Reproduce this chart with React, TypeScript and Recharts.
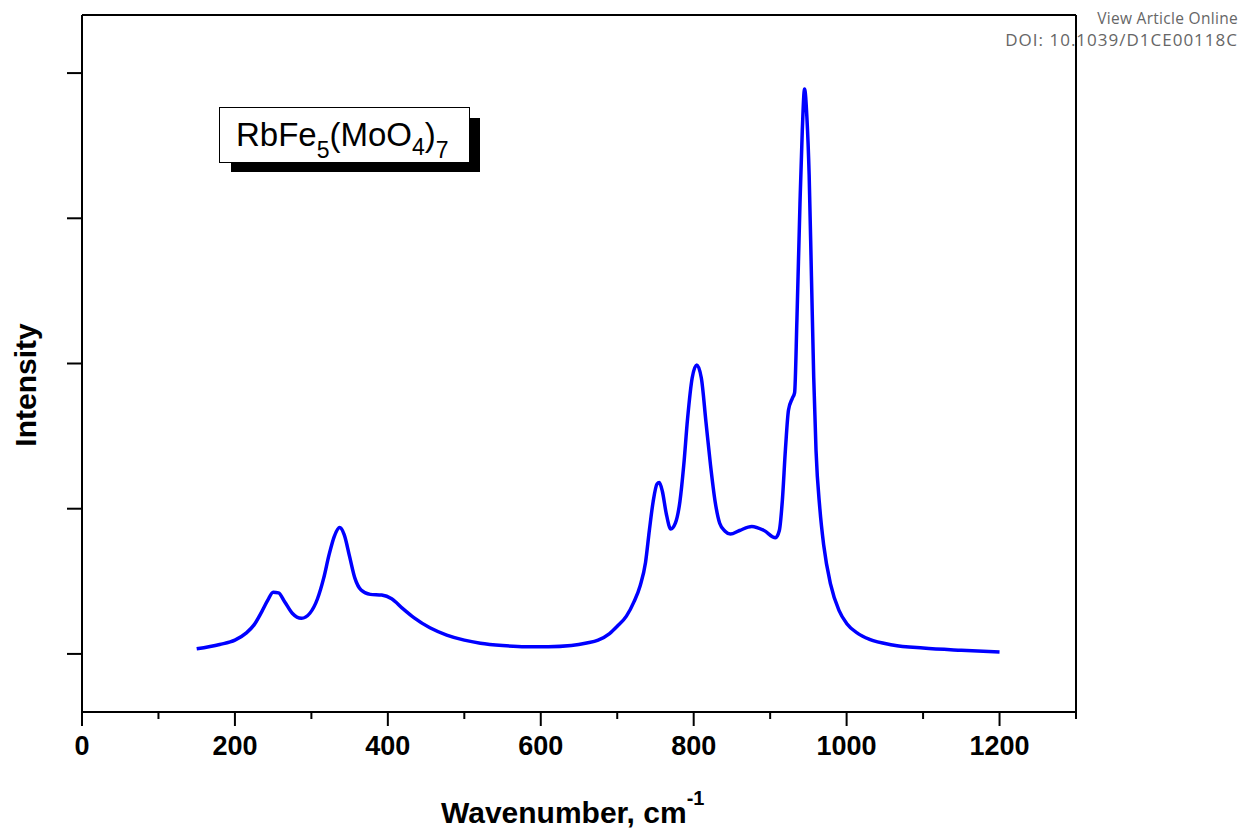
import React from 'react';
import { LineChart, Line, XAxis, YAxis, ReferenceLine, Customized } from 'recharts';

// wavenumber (cm-1) and intensity
const wavenumber = [
  150, 180, 200, 215, 225, 235, 243, 250, 257, 265, 275, 287, 298, 308, 316, 323, 330, 337, 343, 350,
  357, 365, 377, 392, 405, 420, 434, 455, 477, 500, 521, 550, 580, 610, 640, 660, 675, 690, 700, 712,
  722, 730, 737, 742, 747, 752, 755, 759, 764, 770, 776, 782, 787, 792, 798, 804, 810, 816, 822, 828,
  834, 841, 848, 860, 876, 892, 907, 912, 916, 920, 924, 929, 932, 935, 939, 942, 945, 948, 951, 954,
  957, 960, 965, 970, 979, 990, 1000, 1015, 1030, 1060, 1100, 1150, 1200,
];
const intensity = [
  0.035, 0.065, 0.095, 0.145, 0.2, 0.29, 0.37, 0.425, 0.42, 0.36, 0.28, 0.245, 0.28, 0.38, 0.52, 0.68, 0.81, 0.87, 0.82, 0.67,
  0.52, 0.44, 0.41, 0.405, 0.38, 0.31, 0.25, 0.18, 0.13, 0.095, 0.074, 0.058, 0.05, 0.05, 0.058, 0.075, 0.095, 0.14, 0.19, 0.26,
  0.36, 0.47, 0.63, 0.85, 1.05, 1.17, 1.18, 1.12, 0.97, 0.86, 0.9, 1.05, 1.3, 1.62, 1.9, 1.99, 1.9, 1.6, 1.3, 1.05,
  0.9, 0.845, 0.825, 0.85, 0.878, 0.85, 0.8, 0.85, 1.06, 1.41, 1.68, 1.76, 1.8, 2.3, 3.1, 3.6, 3.89, 3.7, 3.3, 2.6,
  1.9, 1.4, 1.0, 0.75, 0.48, 0.3, 0.21, 0.14, 0.1, 0.062, 0.04, 0.025, 0.014,
];

const xTicks = [0, 100, 200, 300, 400, 500, 600, 700, 800, 900, 1000, 1100, 1200, 1300];
const yTicks = [0, 1, 2, 3, 4];

const data = wavenumber.map((w, i) => ({ w, v: intensity[i] }));

const FONT = '"Liberation Sans", Arial, sans-serif';

const XTick = (props: any) => {
  const { x, y, payload } = props;
  const major = payload.value % 200 === 0 && payload.value <= 1200;
  return (
    <g>
      <line x1={x} y1={y} x2={x} y2={y + (major ? 14 : 7)} stroke="#000" strokeWidth={2} />
      {major && (
        <text x={x} y={y + 43} textAnchor="middle" fontFamily={FONT} fontWeight="bold" fontSize={27} fill="#000">
          {payload.value}
        </text>
      )}
    </g>
  );
};

const YTick = (props: any) => {
  const { x, y } = props;
  return <line x1={x - 15} y1={y} x2={x} y2={y} stroke="#000" strokeWidth={2} />;
};

const Annotations = () => (
  <g>
    {/* sample label with drop shadow */}
    <rect x={231} y={118} width={249} height={54} fill="#000" />
    <rect x={219.5} y={107.5} width={250} height={55} fill="#fff" stroke="#000" strokeWidth={1} />
    <text x={236} y={146} fontFamily={FONT} fontSize={33} fill="#000">
      RbFe
      <tspan fontSize={23} dy={12}>5</tspan>
      <tspan dy={-12}>(MoO</tspan>
      <tspan fontSize={23} dy={9}>4</tspan>
      <tspan dy={-9}>)</tspan>
      <tspan fontSize={23} dy={12}>7</tspan>
    </text>
    {/* axis titles */}
    <text
      x={0}
      y={0}
      transform="translate(36 385) rotate(-90)"
      textAnchor="middle"
      fontFamily={FONT}
      fontWeight="bold"
      fontSize={30}
      fill="#000"
    >
      Intensity
    </text>
    <text x={441} y={823} fontFamily={FONT} fontWeight="bold" fontSize={30} fill="#000">
      Wavenumber, cm
      <tspan fontSize={20} dy={-18}>-1</tspan>
    </text>
  </g>
);

export default function App() {
  return (
    <div style={{ position: 'absolute', left: 0, top: 0, width: 1244, height: 834, background: '#fff' }}>
      <div
        style={{
          position: 'absolute',
          right: 6,
          top: 8,
          textAlign: 'right',
          fontFamily: '"Open Sans", Lato, sans-serif',
          fontSize: 15.5,
          letterSpacing: 0.3,
          lineHeight: '21px',
          color: '#666',
        }}
      >
        <div>View Article Online</div>
        <div style={{ fontSize: 17, letterSpacing: 1 }}>DOI: 10.1039/D1CE00118C</div>
      </div>
      <div style={{ position: 'absolute', left: 0, top: 0 }}>
        <LineChart width={1244} height={834} data={data} margin={{ top: 15, right: 168, bottom: 52, left: 22 }}>
          <XAxis
            dataKey="w"
            type="number"
            domain={[0, 1300]}
            ticks={xTicks}
            interval={0}
            height={70}
            tickSize={0}
            tickMargin={0}
            tickLine={false}
            tick={<XTick />}
            axisLine={{ stroke: '#000', strokeWidth: 2 }}
          />
          <YAxis
            type="number"
            domain={[-0.4, 4.4]}
            ticks={yTicks}
            interval={0}
            width={60}
            tickSize={0}
            tickMargin={0}
            tickLine={false}
            tick={<YTick />}
            axisLine={{ stroke: '#000', strokeWidth: 2 }}
          />
          {/* top and right edges of the frame */}
          <ReferenceLine y={4.4} stroke="#000" strokeWidth={2} ifOverflow="extendDomain" />
          <ReferenceLine x={1300} stroke="#000" strokeWidth={2} ifOverflow="extendDomain" />
          <Line
            dataKey="v"
            type="monotone"
            stroke="#0000ff"
            strokeWidth={3.5}
            dot={false}
            activeDot={false}
            isAnimationActive={false}
          />
          <Customized component={Annotations} />
        </LineChart>
      </div>
    </div>
  );
}
